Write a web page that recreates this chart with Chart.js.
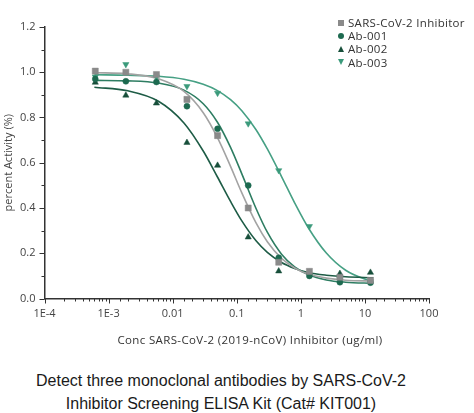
<!DOCTYPE html>
<html lang="en">
<head>
<meta charset="UTF-8" />
<title>SARS-CoV-2 Inhibitor Screening ELISA</title>
<script src="https://cdn.jsdelivr.net/npm/chart.js"></script>
<style>
  body { margin: 0; background: #fff; width: 474px; height: 413px; position: relative; overflow: hidden; font-family: "Open Sans", sans-serif; }
  .plot { position: absolute; left: 0; top: 0; width: 474px; height: 350px; }
  .legend { position: absolute; left: 338px; top: 16px; font-size: 11.5px; letter-spacing: 0.3px; color: #333; }
  .legend div { height: 13.2px; line-height: 13.2px; display: flex; align-items: center; white-space: nowrap; }
  .mk { display: inline-block; margin-right: 4px; }
  .sq { width: 6px; height: 6px; background: #8a8a8a; }
  .ci { width: 6px; height: 6px; border-radius: 50%; background: #1d6a50; }
  .up { width: 0; height: 0; border-left: 3.5px solid transparent; border-right: 3.5px solid transparent; border-bottom: 6px solid #174f3a; }
  .dn { width: 0; height: 0; border-left: 3.5px solid transparent; border-right: 3.5px solid transparent; border-top: 6px solid #3b9a7b; }
  .xtitle { position: absolute; left: 0; width: 500px; top: 332px; text-align: center; font-size: 11.5px; letter-spacing: 0.35px; color: #333; }
  .caption { position: absolute; left: 0; width: 442px; top: 369px; text-align: center; font-family: "Liberation Sans", Arial, sans-serif; font-size: 16px; line-height: 23px; color: #1a1a1a; }
</style>
</head>
<body>
  <div class="plot"><canvas id="elisaChart"></canvas></div>
  <div class="legend">
    <div><span class="mk sq"></span>SARS-CoV-2 Inhibitor</div>
    <div><span class="mk ci"></span>Ab-001</div>
    <div><span class="mk up"></span>Ab-002</div>
    <div><span class="mk dn"></span>Ab-003</div>
  </div>
  <div class="xtitle">Conc SARS-CoV-2 (2019-nCoV) Inhibitor (ug/ml)</div>
  <div class="caption">Detect three monoclonal antibodies by SARS-CoV-2<br>Inhibitor Screening ELISA Kit (Cat# KIT001)</div>

<script>
// measured points (3-fold dilutions, ug/ml)
var concentrations = [12.2, 4.07, 1.36, 0.452, 0.151, 0.0502, 0.0167, 0.00558, 0.00186, 0.00062];
var inhibitorVals = [0.08, 0.094, 0.12, 0.16, 0.40, 0.72, 0.88, 0.99, 1.0, 1.005];
var ab001Vals = [0.07, 0.072, 0.10, 0.18, 0.50, 0.75, 0.85, 0.957, 0.96, 0.97];
var ab002Vals = [0.115, 0.11, 0.115, 0.121, 0.271, 0.588, 0.689, 0.863, 0.898, 0.955];
var ab003Vals = [0.075, 0.085, 0.319, 0.566, 0.773, 0.908, 0.938, 0.98, 1.035, 0.98];

// fitted curves
var curveConc = [0.0006, 0.002, 0.006, 0.015, 0.03, 0.05, 0.08, 0.12, 0.2, 0.3, 0.5, 0.8, 1.3, 2.5, 5, 13.5];
var inhibitorFit = [0.998, 0.993, 0.971, 0.915, 0.821, 0.711, 0.584, 0.467, 0.334, 0.251, 0.177, 0.135, 0.108, 0.090, 0.081, 0.077];
var ab001Fit = [0.964, 0.962, 0.952, 0.921, 0.861, 0.779, 0.668, 0.551, 0.398, 0.293, 0.196, 0.140, 0.106, 0.082, 0.072, 0.067];
var ab002Fit = [0.934, 0.918, 0.872, 0.776, 0.652, 0.537, 0.429, 0.343, 0.255, 0.204, 0.159, 0.133, 0.115, 0.103, 0.096, 0.092];
var ab003Fit = [0.989, 0.987, 0.982, 0.969, 0.947, 0.919, 0.879, 0.830, 0.746, 0.661, 0.539, 0.423, 0.314, 0.201, 0.125, 0.071];

var xTickLabels = ['1E-4', '1E-3', '0.01', '0.1', '1', '10', '100'];
var yMinorStep = 0.1;

function pairs(xs, ys) {
  return xs.map(function (x, i) { return { x: x, y: ys[i] }; });
}
function isDecade(v) {
  var l = Math.log10(v);
  return Math.abs(l - Math.round(l)) < 1e-6;
}

function pointSet(label, vals, color, style, radius, rotation) {
  return {
    label: label, data: pairs(concentrations, vals),
    pointStyle: style, pointRadius: radius, rotation: rotation || 0,
    backgroundColor: color, borderColor: color, borderWidth: 0.5, showLine: false
  };
}
function curveSet(label, vals, color) {
  return {
    label: label, data: pairs(curveConc, vals), showLine: true,
    borderColor: color, borderWidth: 1.6, pointRadius: 0,
    cubicInterpolationMode: 'monotone', fill: false
  };
}

// short minor / longer major tick marks on both axes
var axisTicks = {
  id: 'axisTicks',
  afterDraw: function (chart) {
    var ctx = chart.ctx, area = chart.chartArea, x = chart.scales.x, y = chart.scales.y;
    ctx.save();
    ctx.strokeStyle = '#333';
    ctx.lineWidth = 1;
    x.ticks.forEach(function (t) {
      var px = Math.round(x.getPixelForValue(t.value)) + 0.5;
      var len = isDecade(t.value) ? 5 : 3;
      ctx.beginPath();
      ctx.moveTo(px, area.bottom);
      ctx.lineTo(px, area.bottom + len);
      ctx.stroke();
    });
    var n = Math.round((y.max - y.min) / yMinorStep);
    for (var i = 0; i <= n; i++) {
      var py = Math.round(y.getPixelForValue(y.min + i * yMinorStep)) + 0.5;
      var l = i % 2 === 0 ? 5 : 3;
      ctx.beginPath();
      ctx.moveTo(area.left, py);
      ctx.lineTo(area.left - l, py);
      ctx.stroke();
    }
    ctx.restore();
  }
};

new Chart(document.getElementById('elisaChart'), {
  type: 'scatter',
  data: {
    datasets: [
      pointSet('SARS-CoV-2 Inhibitor', inhibitorVals, '#8a8a8a', 'rect', 4.3),
      pointSet('Ab-001', ab001Vals, '#1d6a50', 'circle', 3),
      pointSet('Ab-002', ab002Vals, '#174f3a', 'triangle', 3.6),
      pointSet('Ab-003', ab003Vals, '#3b9a7b', 'triangle', 3.6, 180),
      curveSet('Inhibitor fit', inhibitorFit, '#a3a3a3'),
      curveSet('Ab-001 fit', ab001Fit, '#2e7d62'),
      curveSet('Ab-002 fit', ab002Fit, '#1e5c46'),
      curveSet('Ab-003 fit', ab003Fit, '#46a084')
    ]
  },
  options: {
    responsive: true,
    maintainAspectRatio: false,
    animation: false,
    layout: { padding: { top: 27, right: 45, bottom: 0, left: 0 } },
    plugins: { legend: { display: false }, tooltip: { enabled: false } },
    scales: {
      x: {
        type: 'logarithmic',
        min: 1e-4,
        max: 100,
        afterFit: function (s) { s.height = 51.5; },
        grid: { display: true, drawOnChartArea: false, drawTicks: false },
        border: { display: true, color: '#333', width: 1.5 },
        ticks: {
          autoSkip: false, maxRotation: 0, minRotation: 0, padding: 9,
          color: '#444', font: { family: 'Open Sans', size: 11 },
          callback: function (v) {
            if (!isDecade(v)) return '';
            return xTickLabels[Math.round(Math.log10(v)) + 4];
          }
        }
      },
      y: {
        min: 0,
        max: 1.2,
        afterFit: function (s) { s.width = 44.5; },
        grid: { display: true, drawOnChartArea: false, drawTicks: false },
        border: { display: true, color: '#333', width: 1.5 },
        ticks: {
          stepSize: 0.2, padding: 9,
          color: '#444', font: { family: 'Open Sans', size: 11 },
          callback: function (v) { return v.toFixed(1); }
        },
        title: {
          display: true, text: 'percent Activity (%)',
          color: '#444', font: { family: 'Open Sans', size: 11 },
          padding: { top: 2, bottom: 0 }
        }
      }
    }
  },
  plugins: [axisTicks]
});
</script>
</body>
</html>
